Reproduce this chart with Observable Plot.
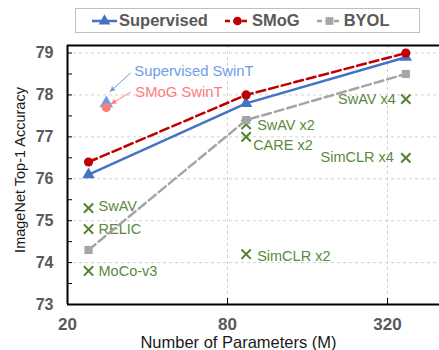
<!DOCTYPE html>
<html>
<head>
<meta charset="utf-8">
<script src="https://cdn.jsdelivr.net/npm/d3@7"></script>
<script src="https://cdn.jsdelivr.net/npm/@observablehq/plot@0.6"></script>
<style>
  body { margin: 0; background: #fff; font-family: Arial, "Liberation Sans", sans-serif; }
  #wrap { position: relative; width: 439px; height: 350px; overflow: hidden; }
  #legend { position: absolute; left: 75px; top: 8px; width: 327px; height: 23px; border: 1px solid #bfbfbf;
            background: #fff; display: flex; align-items: center; padding-left: 16px; box-sizing: content-box; }
  .item { display: flex; align-items: center; margin-right: 17px; font-weight: bold; font-size: 16.5px; color: #595959; }
  .item svg { margin-right: 2px; }
</style>
</head>
<body>
<div id="wrap"><div id="legend"></div></div>
<script>
// ---- data ----
const xTicks = [20, 80, 320];
const yTicks = [73, 74, 75, 76, 77, 78, 79];
const params = [24, 94, 375];
const seriesNames = ["Supervised", "SMoG", "BYOL"];
const supervised = [76.1, 77.8, 78.9];
const smog = [76.4, 78.0, 79.0];
const byol = [74.3, 77.4, 78.5];
const swinParams = [28, 28];
const swinNames = ["Supervised SwinT", "SMoG SwinT"];
const swinAcc = [77.8, 77.7];
const otherNames = ["SwAV", "RELIC", "MoCo-v3", "SwAV x2", "CARE x2", "SimCLR x2", "SwAV x4", "SimCLR x4"];
const otherParams = [24, 24, 24, 94, 94, 94, 375, 375];
const otherAcc = [75.3, 74.8, 73.8, 77.3, 77.0, 74.2, 77.9, 76.5];
const xLabel = "Number of Parameters (M)";
const yLabel = "ImageNet Top-1 Accuracy";

// ---- styles ----
const colors = {Supervised: "#4472C4", SMoG: "#C00000", BYOL: "#A5A5A5"};
const symbols = {Supervised: "triangle", SMoG: "circle", BYOL: "square"};
const dashes = {Supervised: null, SMoG: "9,4", BYOL: "9,4"};
const green = "#548235";
const labelOffsets = {
  "SwAV": [10, -2, "start"], "RELIC": [10, 0, "start"], "MoCo-v3": [10, 0, "start"],
  "SwAV x2": [11, 1, "start"], "CARE x2": [7, 8, "start"], "SimCLR x2": [11, 2, "start"],
  "SwAV x4": [-10, 0, "end"], "SimCLR x4": [-12, 0, "end"]
};
const swinStyle = {
  "Supervised SwinT": {color: "#6f9de8", series: "Supervised", dx: 28, dy: -32, start: [25, -30], end: [4, -11]},
  "SMoG SwinT": {color: "#ff7c7c", series: "SMoG", dx: 29, dy: -15, start: [25, -15], end: [5, -3]}
};

const seriesVals = {Supervised: supervised, SMoG: smog, BYOL: byol};
const rows = seriesNames.flatMap(s => params.map((p, i) => ({series: s, x: p, y: seriesVals[s][i]})));
const swin = swinNames.map((n, i) => ({name: n, x: swinParams[i], y: swinAcc[i]}));
const others = otherNames.map((n, i) => ({name: n, x: otherParams[i], y: otherAcc[i]}));
const yTop = 79.18;
const minorY = d3.range(73.5, 79.01, 0.5);

const marks = [
  Plot.ruleY(yTicks.slice(1), {stroke: "#d0d0d0", strokeDasharray: "3,3", strokeWidth: 1}),
  Plot.ruleX(xTicks.slice(1), {stroke: "#d0d0d0", strokeDasharray: "3,3", strokeWidth: 1}),
  Plot.ruleY(minorY, {stroke: "#000", strokeWidth: 1, insetRight: 372 - 5}),
  Plot.ruleX(xTicks.slice(1), {stroke: "#000", strokeWidth: 1, insetTop: 259 - 6}),
  Plot.ruleY([yTop], {stroke: "#000", strokeWidth: 2}),
  Plot.ruleY([73], {stroke: "#000", strokeWidth: 2}),
  Plot.ruleX([20], {stroke: "#000", strokeWidth: 2}),
  // x tick labels
  Plot.text(xTicks, {x: d => d, frameAnchor: "bottom", lineAnchor: "top", dy: 13, text: d => String(d),
    fontSize: 17, fontWeight: "bold", fill: "#595959"}),
  Plot.axisY(yTicks, {tickSize: 0, tickPadding: 14, tickFormat: d => String(d), fontSize: 16, fontWeight: "bold", fill: "#595959", label: null}),
  Plot.text([yLabel], {frameAnchor: "left", textAnchor: "middle", text: d => d, rotate: -90, dx: -47, dy: -5, fontSize: 14.5, fill: "#1a1a1a"}),
  Plot.text([xLabel], {frameAnchor: "bottom", textAnchor: "middle", lineAnchor: "middle", text: d => d, dx: -15, dy: 38, fontSize: 16.5, fill: "#1a1a1a"}),
  // other methods
  Plot.dot(others, {x: "x", y: "y", symbol: "times", r: 4.3, stroke: green, strokeWidth: 2}),
  ...others.map(o => {
    const [dx, dy, anchor] = labelOffsets[o.name];
    return Plot.text([o], {x: "x", y: "y", text: "name", dx, dy, textAnchor: anchor, fontSize: 14.5, fill: "#5a8a3c"});
  }),
];
// series lines, drawn BYOL first so Supervised/SMoG are on top
for (const s of ["BYOL", "Supervised", "SMoG"]) {
  const d = rows.filter(r => r.series === s);
  marks.push(Plot.line(d, {x: "x", y: "y", stroke: colors[s], strokeWidth: 2.5, strokeDasharray: dashes[s]}));
  marks.push(Plot.dot(d, {x: "x", y: "y", symbol: symbols[s], r: 4.6, fill: colors[s], stroke: "none"}));
}
// Swin points and labels
for (const w of swin) {
  const st = swinStyle[w.name];
  marks.push(Plot.dot([w], {x: "x", y: "y", symbol: symbols[st.series], r: st.series === "SMoG" ? 4.6 : 5, fill: st.color, stroke: "none"}));
  marks.push(Plot.text([w], {x: "x", y: "y", text: "name", dx: st.dx, dy: st.dy, textAnchor: "start", fontSize: 14.8, fill: st.color}));
}

const plot = Plot.plot({
  width: 439, height: 350,
  marginLeft: 67, marginRight: 0, marginTop: 45, marginBottom: 46,
  style: {fontFamily: "Arial, 'Liberation Sans', sans-serif", background: "transparent", overflow: "visible"},
  x: {type: "log", domain: [20, 502], axis: null},
  y: {domain: [73, yTop]},
  marks
});

// arrows for Swin annotations, placed with the plot's scales
const xs = plot.scale("x"), ys = plot.scale("y");
const svg = d3.select(plot);
const g = svg.append("g");
for (const w of swin) {
  const st = swinStyle[w.name];
  const px = xs.apply(w.x), py = ys.apply(w.y);
  const x1 = px + st.start[0], y1 = py + st.start[1];
  const x2 = px + st.end[0], y2 = py + st.end[1];
  g.append("line").attr("x1", x1).attr("y1", y1).attr("x2", x2).attr("y2", y2)
    .attr("stroke", st.color).attr("stroke-width", 1);
  const a = Math.atan2(y2 - y1, x2 - x1), L = 6, W = 0.45;
  const p1 = [x2 - L * Math.cos(a - W), y2 - L * Math.sin(a - W)];
  const p2 = [x2 - L * Math.cos(a + W), y2 - L * Math.sin(a + W)];
  g.append("path").attr("d", `M${x2},${y2}L${p1}L${p2}Z`).attr("fill", st.color);
}
document.getElementById("wrap").prepend(plot);

// legend
const legend = document.getElementById("legend");
for (const s of seriesNames) {
  const item = document.createElement("div");
  item.className = "item";
  const sw = d3.create("svg").attr("width", 25).attr("height", 14);
  sw.append("line").attr("x1", 0).attr("x2", 25).attr("y1", 7).attr("y2", 7)
    .attr("stroke", colors[s]).attr("stroke-width", 2.5).attr("stroke-dasharray", dashes[s] ? "5,3.5" : null);
  sw.append("path").attr("transform", "translate(12.5,7)")
    .attr("d", d3.symbol(s === "Supervised" ? d3.symbolTriangle : s === "SMoG" ? d3.symbolCircle : d3.symbolSquare, 60)())
    .attr("fill", colors[s]);
  item.appendChild(sw.node());
  const t = document.createElement("span");
  t.textContent = s;
  item.appendChild(t);
  legend.appendChild(item);
}
</script>
</body>
</html>
